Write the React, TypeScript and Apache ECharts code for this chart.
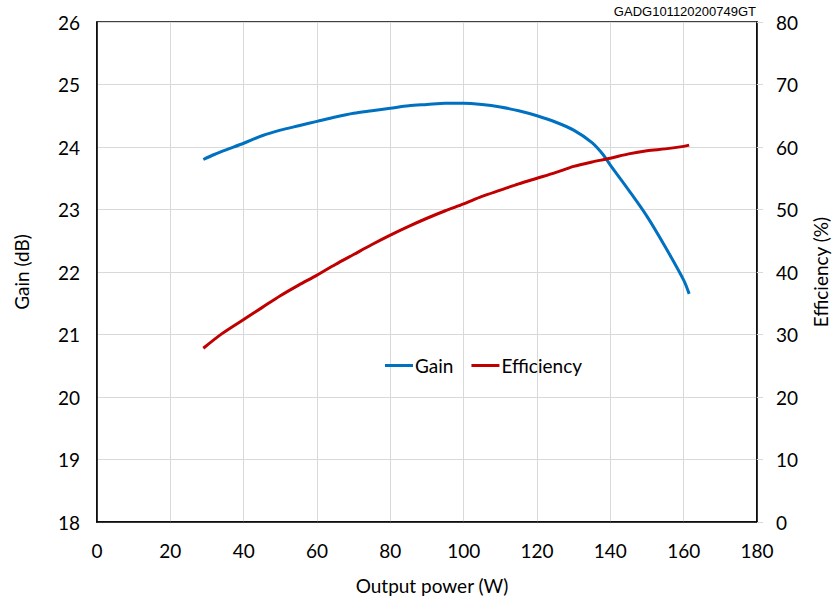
import React, { useEffect, useRef } from "react";
import * as echarts from "echarts";

const gainPower = [29, 32, 35, 40, 45, 50, 55, 60, 65, 70, 75, 80, 85, 90, 95, 100, 105, 110, 115, 120, 125, 130, 135, 138, 140, 145, 150, 155, 160, 161.5];
const gainValues = [23.8, 23.88, 23.95, 24.06, 24.18, 24.27, 24.34, 24.41, 24.48, 24.54, 24.58, 24.62, 24.66, 24.68, 24.7, 24.7, 24.68, 24.64, 24.58, 24.5, 24.4, 24.27, 24.07, 23.88, 23.71, 23.31, 22.89, 22.4, 21.87, 21.65];

const effPower = [29, 34, 40, 45, 50, 55, 60, 65, 70, 75, 80, 85, 90, 95, 100, 105, 110, 115, 120, 125, 130, 135, 140, 145, 150, 155, 160, 161.5];
const effValues = [27.8, 30.1, 32.4, 34.3, 36.2, 37.9, 39.5, 41.2, 42.8, 44.4, 45.9, 47.3, 48.6, 49.8, 50.9, 52.1, 53.1, 54.1, 55.0, 55.9, 56.9, 57.6, 58.2, 58.9, 59.4, 59.7, 60.1, 60.3];

const FONT = "Lato, 'Open Sans', sans-serif";

export default function App() {
  const ref = useRef<HTMLDivElement>(null);
  useEffect(() => {
    if (!ref.current) return;
    const chart = echarts.init(ref.current, null, { renderer: "svg", width: 834, height: 604 });
    const labelStyle = { color: "#000", fontSize: 19, fontFamily: FONT };
    chart.setOption({
      animation: false,
      backgroundColor: "#fff",
      grid: {
        left: 97,
        top: 22,
        right: 77,
        bottom: 82,
        containLabel: false,
        outerBoundsMode: "none",
        show: true,
        borderColor: "#000",
        borderWidth: 1.5,
        backgroundColor: "transparent",
      },
      legend: {
        left: 380,
        top: 351,
        itemWidth: 28,
        itemHeight: 3,
        itemGap: 18,
        icon: "rect",
        textStyle: { color: "#000", fontSize: 19, fontFamily: FONT, padding: [0, 0, 0, -3] },
        data: ["Gain", "Efficiency"],
      },
      graphic: [
        {
          type: "text",
          right: 834 - 756,
          top: 5,
          style: { text: "GADG101120200749GT", fill: "#000", fontSize: 13, fontFamily: "'Liberation Sans', Arial, sans-serif" },
        },
      ],
      xAxis: {
        type: "value",
        min: 0,
        max: 180,
        interval: 20,
        name: "Output power (W)",
        nameLocation: "middle",
        nameGap: 54,
        nameTextStyle: { ...labelStyle, fontSize: 19, padding: [0, 0, 0, 10] },
        axisLine: { show: true, lineStyle: { color: "#000", width: 1.5 } },
        axisTick: { show: false },
        axisLabel: { ...labelStyle, margin: 19 },
        splitLine: { show: true, lineStyle: { color: "#d9d9d9", width: 1 } },
      },
      yAxis: [
        {
          type: "value",
          min: 18,
          max: 26,
          interval: 1,
          name: "Gain (dB)",
          nameLocation: "middle",
          nameGap: 66,
          nameTextStyle: { ...labelStyle, fontSize: 19 },
          axisLine: { show: true, lineStyle: { color: "#000", width: 1.5 } },
          axisTick: { show: false },
          axisLabel: { ...labelStyle, margin: 17 },
          splitLine: { show: true, lineStyle: { color: "#d9d9d9", width: 1 } },
        },
        {
          type: "value",
          min: 0,
          max: 80,
          interval: 10,
          position: "right",
          name: "Efficiency (%)",
          nameLocation: "middle",
          nameGap: 54,
          nameRotate: 90,
          nameTextStyle: { ...labelStyle, fontSize: 19 },
          axisLine: { show: true, lineStyle: { color: "#000", width: 1.5 } },
          axisTick: { show: true, length: 6, lineStyle: { color: "#d9d9d9" } },
          axisLabel: { ...labelStyle, margin: 19 },
          splitLine: { show: false },
        },
      ],
      series: [
        {
          name: "Gain",
          type: "line",
          yAxisIndex: 0,
          smooth: 0.3,
          showSymbol: false,
          color: "#0070c0",
          lineStyle: { color: "#0070c0", width: 3 },
          data: gainPower.map((p, i) => [p, gainValues[i]]),
        },
        {
          name: "Efficiency",
          type: "line",
          yAxisIndex: 1,
          smooth: 0.3,
          showSymbol: false,
          color: "#c00000",
          lineStyle: { color: "#c00000", width: 3 },
          data: effPower.map((p, i) => [p, effValues[i]]),
        },
      ],
    });
    return () => chart.dispose();
  }, []);
  return <div ref={ref} style={{ width: 834, height: 604, position: "absolute", left: 0, top: 0 }} />;
}
